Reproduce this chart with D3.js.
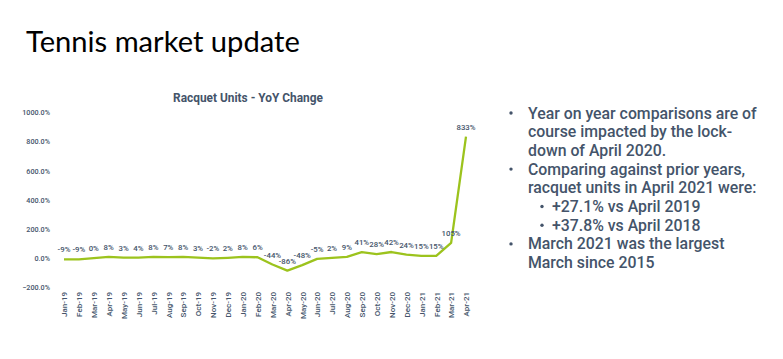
<!DOCTYPE html>
<html><head><meta charset="utf-8">
<script src="https://cdn.jsdelivr.net/npm/d3@7"></script>
<style>
html,body{margin:0;padding:0;background:#fff;}
svg{display:block;}
</style></head>
<body>
<svg id="c" width="783" height="359"></svg>
<script>
const months = ["Jan-19","Feb-19","Mar-19","Apr-19","May-19","Jun-19","Jul-19","Aug-19","Sep-19","Oct-19","Nov-19","Dec-19",
  "Jan-20","Feb-20","Mar-20","Apr-20","May-20","Jun-20","Jul-20","Aug-20","Sep-20","Oct-20","Nov-20","Dec-20",
  "Jan-21","Feb-21","Mar-21","Apr-21"];
const yoyChange = [-9,-9,0,8,3,4,8,7,8,3,-2,2,8,6,-44,-86,-48,-5,2,9,41,28,42,24,15,15,105,833];
const yTicks = [-200,0,200,400,600,800,1000];
const chartTitle = "Racquet Units - YoY Change";
const pageTitle = "Tennis market update";
const bullets = [
  {level:1, lines:["Year on year comparisons are of","course impacted by the lock-","down of April 2020."]},
  {level:1, lines:["Comparing against prior years,","racquet units in April 2021 were:"]},
  {level:2, lines:["+27.1% vs April 2019"]},
  {level:2, lines:["+37.8% vs April 2018"]},
  {level:1, lines:["March 2021 was the largest","March since 2015"]}
];

const svg = d3.select("#c");
const ink = "#44546a";
const lineColor = "#9cc31d";

function fitWidth(sel, target){
  const w = sel.node().getComputedTextLength();
  const fs = parseFloat(sel.attr("font-size"));
  sel.attr("font-size", fs*target/w);
}

// page title
const t = svg.append("text").attr("x",26).attr("y",52)
  .attr("font-family","Lato, 'Open Sans', sans-serif").attr("font-size",32)
  .attr("fill","#000").text(pageTitle);
fitWidth(t, 274);

// scales
const x = d3.scalePoint().domain(months).range([64, 466]);
const y = d3.scaleLinear().domain([-200,1000]).range([287.3, 112.3]);

const fontC = "Roboto, 'DejaVu Sans', sans-serif";

// chart title
const ct = svg.append("text").attr("x",248).attr("y",102).attr("text-anchor","middle")
  .attr("font-family",fontC).attr("font-weight",700).attr("font-size",9.5)
  .attr("fill",ink).text(chartTitle);
fitWidth(ct, 150);

// y axis
const yAxis = svg.append("g").attr("transform","translate(50,0)")
  .call(d3.axisLeft(y).tickValues(yTicks).tickSize(0).tickPadding(0).tickFormat(d=>d3.format(".1f")(d)+"%"));
yAxis.select(".domain").remove();
yAxis.selectAll("text").attr("font-family",fontC).attr("font-size",7.2).attr("font-weight",500)
  .attr("fill",ink).attr("dy","0.35em");

// x axis labels
const xAxis = svg.append("g").attr("transform","translate(0,291)")
  .call(d3.axisBottom(x).tickSize(0).tickPadding(0));
xAxis.select(".domain").remove();
xAxis.selectAll("text").attr("font-family",fontC).attr("font-size",8).attr("font-weight",500)
  .attr("fill",ink).attr("text-anchor","end").attr("dy","0.35em")
  .attr("transform","rotate(-90)").attr("x",-1).attr("y",0);

// line
svg.append("path").datum(yoyChange)
  .attr("fill","none").attr("stroke",lineColor).attr("stroke-width",2.3).attr("stroke-linejoin","round")
  .attr("d", d3.line().x((d,i)=>x(months[i])).y(d=>y(d)));

// data labels
svg.append("g").selectAll("text").data(yoyChange).join("text")
  .attr("x",(d,i)=>x(months[i])).attr("y",d=>y(d)-7)
  .attr("text-anchor","middle").attr("font-family",fontC).attr("font-weight",500).attr("font-size",7.8)
  .attr("fill",ink).text(d=>d+"%");

// bullets
const bg = svg.append("g");
let ly = 113;
const lh = 18.7;
bullets.forEach(b=>{
  const bx = b.level===1 ? 511 : 542;
  const tx = b.level===1 ? 528 : 552;
  bg.append("circle").attr("cx",bx).attr("cy",ly).attr("r",1.7).attr("fill",ink);
  b.lines.forEach(l=>{
    bg.append("text").attr("x",tx).attr("y",ly).attr("dy","0.35em")
      .attr("font-family",fontC).attr("font-size",14.5).attr("fill",ink).attr("font-weight",500).text(l);
    ly += lh;
  });
});
const first = bg.select("text");
const w0 = first.node().getComputedTextLength();
const scaleF = 229/w0;
bg.selectAll("text").attr("font-size",14.5*scaleF);
</script>
</body></html>
